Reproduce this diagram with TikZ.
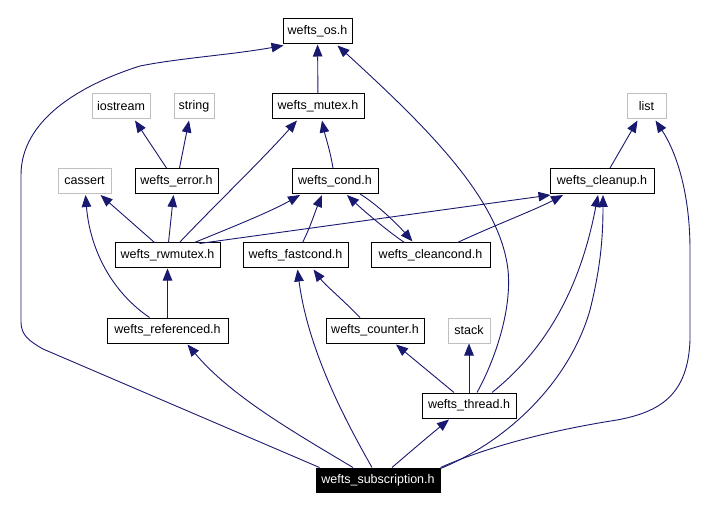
\documentclass[tikz,border=0pt]{standalone}
\usepackage{fontspec}
\setmainfont{Liberation Sans}
\usetikzlibrary{arrows.meta,calc}
\definecolor{edgeblue}{HTML}{191970}
\definecolor{extgray}{HTML}{BFBFBF}
\begin{document}
\begin{tikzpicture}[x=1pt,y=-1pt,
  box/.style={draw=black,fill=white,line width=1pt,minimum height=25pt,inner sep=0pt,font=\fontsize{12.5}{14}\selectfont},
  extbox/.style={box,draw=extgray},
  mainbox/.style={box,fill=black,text=white},
  edge/.style={draw=edgeblue,line width=0.9pt,-{Triangle[length=12pt,width=9.5pt]}}]
\path[fill=white] (0,0) rectangle (711,510);
\useasboundingbox (0,0) rectangle (711,510);
% nodes
\node[box,minimum width=69pt] (os) at (317.5,31.5) {wefts\_os.h};
\node[box,minimum width=92pt] (mutex) at (318,106.5) {wefts\_mutex.h};
\node[extbox,minimum width=58pt] (iostream) at (121,106.5) {iostream};
\node[extbox,minimum width=40pt] (str) at (194,106.5) {string};
\node[extbox,minimum width=39pt] (list) at (646.5,106.5) {list};
\node[extbox,minimum width=53pt] (cassert) at (84.5,181) {cassert};
\node[box,minimum width=83pt] (error) at (176.5,181) {wefts\_error.h};
\node[box,minimum width=86pt] (cond) at (335,181) {wefts\_cond.h};
\node[box,minimum width=104pt] (cleanup) at (602,181) {wefts\_cleanup.h};
\node[box,minimum width=105pt] (rwmutex) at (167.5,255.5) {wefts\_rwmutex.h};
\node[box,minimum width=105pt] (fastcond) at (295.5,255.5) {wefts\_fastcond.h};
\node[box,minimum width=119pt] (cleancond) at (430.5,255.5) {wefts\_cleancond.h};
\node[box,minimum width=121pt] (referenced) at (167.5,330.5) {wefts\_referenced.h};
\node[box,minimum width=98pt] (counter) at (375,330.5) {wefts\_counter.h};
\node[extbox,minimum width=42pt] (stack) at (469,330.5) {stack};
\node[box,minimum width=94pt] (thread) at (469,405.5) {wefts\_thread.h};
\node[mainbox,minimum width=124pt,minimum height=24pt] (sub) at (378,480) {wefts\_subscription.h};
% edges
\draw[edge] ($(sub.north west)+(4,0)$) -- (43,349) .. controls (29,341) and (21,335) .. (21,322) -- (21,175) .. controls (21,120) and (80,85) .. (140,66) .. controls (180,58) and (230,55) .. ($(os.south west)+(1,1)$);
\draw[edge] ($(sub.north)+(-25,0)$) .. controls (290,430) and (230,395) .. ($(referenced.south)+(20,1)$);
\draw[edge] ($(sub.north)+(-6,0)$) .. controls (345,420) and (308,350) .. ($(fastcond.south)+(2,1)$);
\draw[edge] ($(sub.north)+(14,0)$) .. controls (410,452) and (430,435) .. ($(thread.south)+(-20,1)$);
\draw[edge] ($(sub.north east)+(0,1)$) .. controls (510,440) and (570,380) .. (590,310) .. controls (600,270) and (603,240) .. ($(cleanup.south)+(1,1)$);
\draw[edge] ($(sub.north east)+(0,0)$) .. controls (480,450) and (540,432) .. (617,420) .. controls (660,412) and (688,395) .. (690,340) -- (690,250) .. controls (690,190) and (675,150) .. ($(list.south)+(9,1)$);
\draw[edge] ($(thread.north)+(8,0)$) .. controls (495,360) and (512,310) .. (508,270) .. controls (500,200) and (430,130) .. ($(os.south)+(20,1)$);
\draw[edge] ($(thread.north)+(-15,0)$) -- ($(counter.south)+(21,1)$);
\draw[edge] (thread) -- (stack);
\draw[edge] ($(thread.north)+(23,0)$) .. controls (545,350) and (580,290) .. ($(cleanup.south)+(-4,1)$);
\draw[edge] (referenced) -- (rwmutex);
\draw[edge] ($(referenced.north)+(-18,0)$) .. controls (112,292) and (90,250) .. ($(cassert.south)+(1,1)$);
\draw[edge] ($(counter.north)+(-15,0)$) .. controls (340,297) and (325,285) .. ($(fastcond.south)+(18,1)$);
\draw[edge] ($(rwmutex.north)+(-13,0)$) -- ($(cassert.south)+(16,1)$);
\draw[edge] ($(rwmutex.north)+(1,0)$) -- ($(error.south)+(-3,1)$);
\draw[edge] ($(rwmutex.north)+(12,0)$) .. controls (215,205) and (262,160) .. ($(mutex.south)+(-21,1)$);
\draw[edge] ($(rwmutex.north)+(27,0)$) .. controls (230,228) and (270,212) .. ($(cond.south)+(-35,1)$);
\draw[edge] ($(rwmutex.north)+(32,1)$) -- ($(cleanup.south west)+(1,1)$);
\draw[edge] ($(fastcond.north)+(7,0)$) .. controls (310,228) and (315,212) .. ($(cond.south)+(-13,1)$);
\draw[edge] ($(cond.south)+(25,0)$) .. controls (378,205) and (398,225) .. ($(cleancond.north)+(-18,-1)$);
\draw[edge] ($(cleancond.north)+(-26,0)$) .. controls (390,233) and (365,212) .. ($(cond.south)+(12,1)$);
\draw[edge] ($(cleancond.north)+(27,0)$) .. controls (495,225) and (535,210) .. ($(cleanup.south)+(-39,1)$);
\draw[edge] ($(cond.north)+(-2,0)$) .. controls (330,150) and (325,135) .. ($(mutex.south)+(4,1)$);
\draw[edge] (mutex) -- (os);
\draw[edge] ($(error.north)+(-10,0)$) -- ($(iostream.south)+(14,1)$);
\draw[edge] ($(error.north)+(3,0)$) -- ($(str.south)+(-5,1)$);
\draw[edge] ($(cleanup.north)+(8,0)$) -- ($(list.south)+(-9,1)$);
\end{tikzpicture}
\end{document}
